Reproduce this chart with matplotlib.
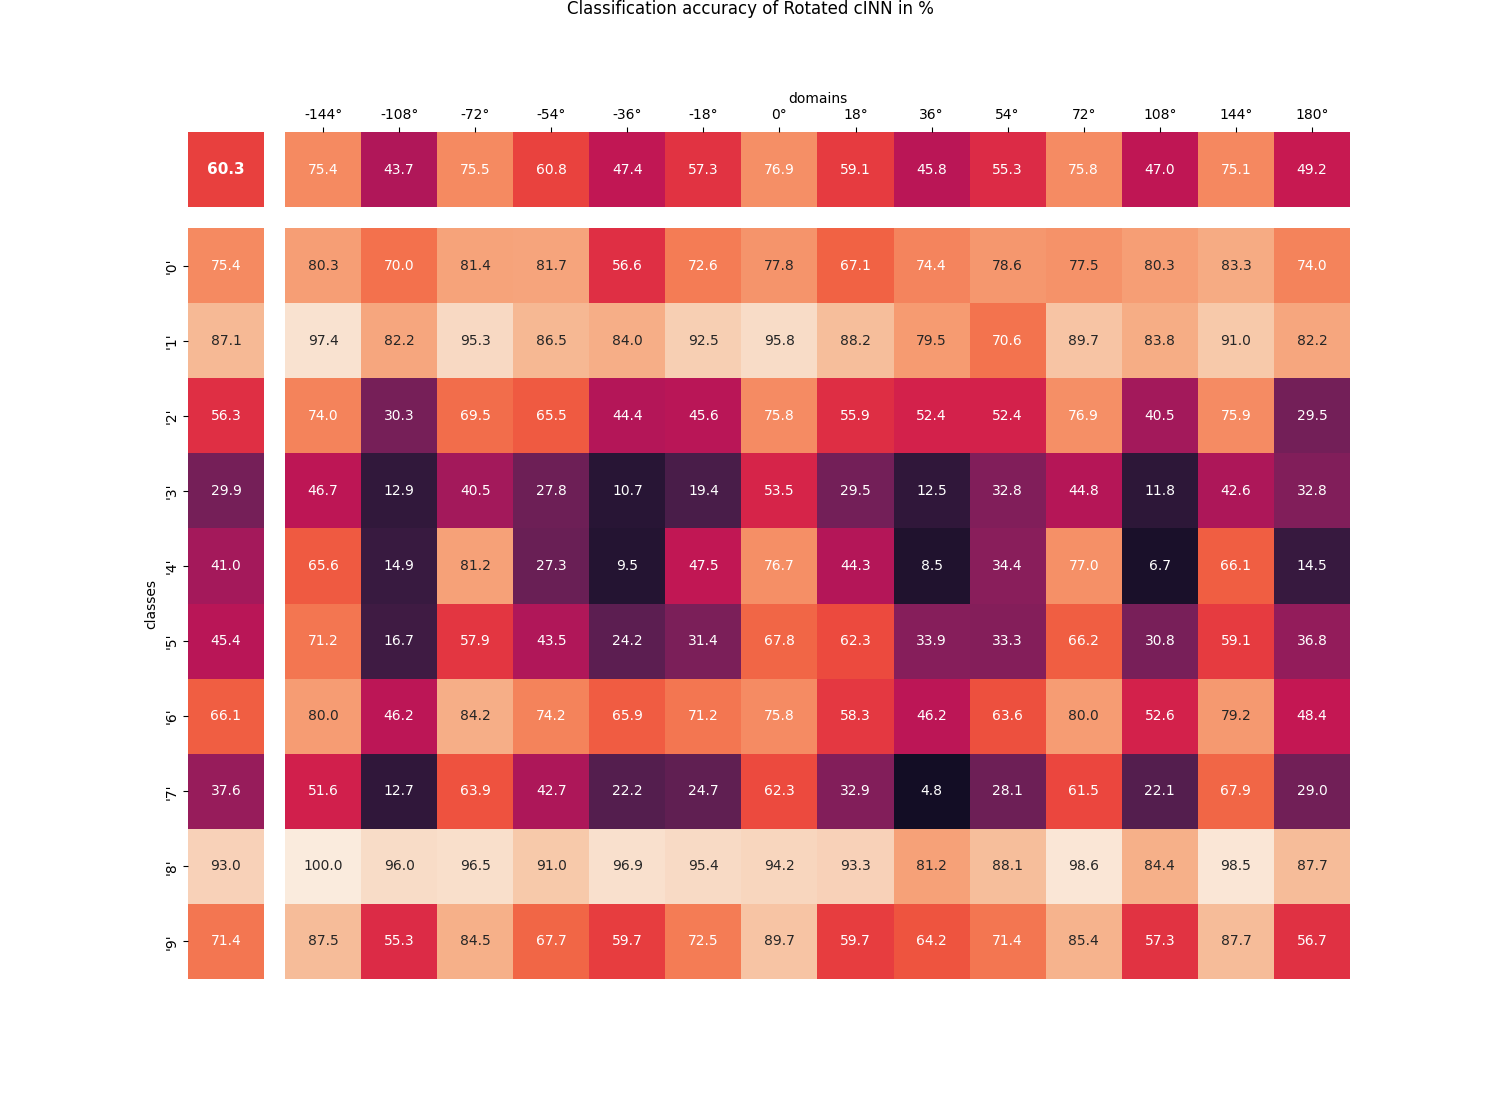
import matplotlib
matplotlib.use("Agg")
import matplotlib.pyplot as plt
import numpy as np
import seaborn as sns

domains = ["-144°", "-108°", "-72°", "-54°", "-36°", "-18°", "0°",
           "18°", "36°", "54°", "72°", "108°", "144°", "180°"]
classes = ["'0'", "'1'", "'2'", "'3'", "'4'", "'5'", "'6'", "'7'", "'8'", "'9'"]

acc = [
    [80.3, 70.0, 81.4, 81.7, 56.6, 72.6, 77.8, 67.1, 74.4, 78.6, 77.5, 80.3, 83.3, 74.0],
    [97.4, 82.2, 95.3, 86.5, 84.0, 92.5, 95.8, 88.2, 79.5, 70.6, 89.7, 83.8, 91.0, 82.2],
    [74.0, 30.3, 69.5, 65.5, 44.4, 45.6, 75.8, 55.9, 52.4, 52.4, 76.9, 40.5, 75.9, 29.5],
    [46.7, 12.9, 40.5, 27.8, 10.7, 19.4, 53.5, 29.5, 12.5, 32.8, 44.8, 11.8, 42.6, 32.8],
    [65.6, 14.9, 81.2, 27.3, 9.5, 47.5, 76.7, 44.3, 8.5, 34.4, 77.0, 6.7, 66.1, 14.5],
    [71.2, 16.7, 57.9, 43.5, 24.2, 31.4, 67.8, 62.3, 33.9, 33.3, 66.2, 30.8, 59.1, 36.8],
    [80.0, 46.2, 84.2, 74.2, 65.9, 71.2, 75.8, 58.3, 46.2, 63.6, 80.0, 52.6, 79.2, 48.4],
    [51.6, 12.7, 63.9, 42.7, 22.2, 24.7, 62.3, 32.9, 4.8, 28.1, 61.5, 22.1, 67.9, 29.0],
    [100.0, 96.0, 96.5, 91.0, 96.9, 95.4, 94.2, 93.3, 81.2, 88.1, 98.6, 84.4, 98.5, 87.7],
    [87.5, 55.3, 84.5, 67.7, 59.7, 72.5, 89.7, 59.7, 64.2, 71.4, 85.4, 57.3, 87.7, 56.7],
]
class_avg = [75.4, 87.1, 56.3, 29.9, 41.0, 45.4, 66.1, 37.6, 93.0, 71.4]
domain_avg = [75.4, 43.7, 75.5, 60.8, 47.4, 57.3, 76.9, 59.1, 45.8, 55.3, 75.8, 47.0, 75.1, 49.2]
overall = 60.3

fig = plt.figure(figsize=(15, 11), dpi=100)

ax_all = fig.add_axes([0.1253, 0.8118, 0.0507, 0.0682])
ax_top = fig.add_axes([0.19, 0.8118, 0.71, 0.0682])
ax_left = fig.add_axes([0.1253, 0.11, 0.0507, 0.6827])
ax_main = fig.add_axes([0.19, 0.11, 0.71, 0.6827])

common = dict(cmap="rocket", vmin=0, vmax=100, cbar=False, annot=True, fmt=".1f")

sns.heatmap(np.array(acc), ax=ax_main, **common)
ax_main.set_xticks([])
ax_main.set_yticks([])

sns.heatmap(np.array(domain_avg)[None, :], ax=ax_top, **common)
ax_top.set_yticks([])
ax_top.xaxis.tick_top()
ax_top.xaxis.set_label_position("top")
ax_top.set_xticks(np.arange(len(domains)) + 0.5)
ax_top.set_xticklabels(domains, rotation=0)
ax_top.set_xlabel("domains")

sns.heatmap(np.array(class_avg)[:, None], ax=ax_left, **common)
ax_left.set_xticks([])
ax_left.set_yticks(np.arange(len(classes)) + 0.5)
ax_left.set_yticklabels(classes, rotation=90, va="center")
ax_left.set_ylabel("classes")

sns.heatmap(np.array([[overall]]), ax=ax_all, annot_kws={"weight": "bold", "size": 11},
            **common)
ax_all.set_xticks([])
ax_all.set_yticks([])

fig.suptitle("Classification accuracy of Rotated cINN in %", y=1.0)

fig.savefig("out.png", dpi=100)
